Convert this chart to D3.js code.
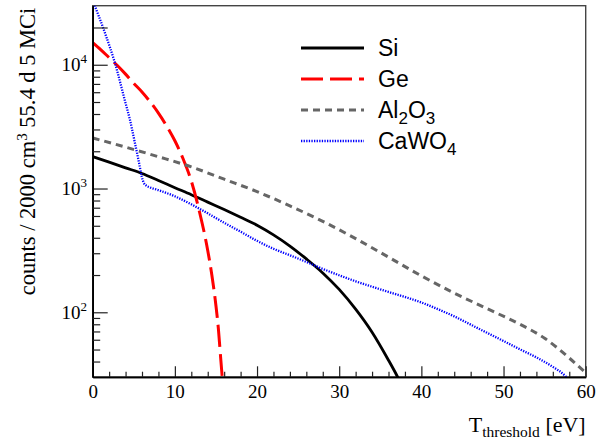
<!DOCTYPE html>
<html>
<head>
<meta charset="utf-8">
<script src="https://cdn.jsdelivr.net/npm/d3@7"></script>
<style>
body { margin: 0; background: #fff; }
svg { display: block; }
</style>
</head>
<body>
<script>
// values (counts vs threshold in eV)
const siT      = [0, 2, 4, 6, 8, 10, 12, 14, 16, 18, 20, 22, 24, 26, 28, 30, 32, 34, 36, 37, 37.4];
const siCounts = [1811, 1633, 1469, 1324, 1161, 1016, 891, 776, 676, 586, 505, 422, 343, 270, 208, 153, 106, 69, 41, 31, 27.5];

const geT      = [0, 1, 2, 3, 4, 5, 6, 7, 8, 9, 10, 11, 12, 13, 14, 14.5, 15, 15.3, 15.6, 15.8];
const geCounts = [15100, 13200, 11400, 9860, 8400, 7080, 6030, 5010, 4070, 3200, 2430, 1740, 1150, 646, 316, 200, 113, 73, 40.6, 27.9];

const alT      = [0, 4, 8, 12, 16, 20, 24, 28, 32, 36, 40, 44, 48, 52, 55, 58, 60];
const alCounts = [2560, 2160, 1807, 1496, 1189, 944, 724, 543, 394, 279, 197, 143, 107, 80, 61.7, 42.7, 32.4];

const cwT      = [0, 1.5, 2.71, 4, 4.53, 5, 5.35, 5.7, 5.96, 6.2, 6.5, 7, 8, 10, 12, 14, 16, 18, 20, 22, 24, 26, 28, 30, 32, 34, 36, 38, 40, 42, 44, 46, 48, 50, 52, 54, 56, 57.5, 58];
const cwCounts = [33000, 18000, 10300, 4890, 3600, 2580, 2000, 1540, 1256, 1118, 1058, 1019, 970, 865, 745, 630, 529, 448, 378, 326, 289, 255, 224, 199, 178, 161, 146, 133, 120, 106, 92.7, 79.5, 68.2, 58.6, 50.2, 43.2, 36.2, 30.6, 28];

const xMajor = [0, 10, 20, 30, 40, 50, 60];
const xMinor = [2, 4, 6, 8, 12, 14, 16, 18, 22, 24, 26, 28, 32, 34, 36, 38, 42, 44, 46, 48, 52, 54, 56, 58];
const yMajor = [100, 1000, 10000, 20000];
const yMinor = [40, 50, 60, 70, 80, 90, 200, 300, 400, 500, 600, 700, 800, 900,
                2000, 3000, 4000, 5000, 6000, 7000, 8000, 9000];
const yLabels = [100, 1000, 10000];

const series = [
  { name: "Si",    t: siT, c: siCounts, color: "#000000", width: 2.8, dash: null },
  { name: "Ge",    t: geT, c: geCounts, color: "#ff0000", width: 3,   dash: "22,7" },
  { name: "Al2O3", t: alT, c: alCounts, color: "#666666", width: 3,   dash: "7,5" },
  { name: "CaWO4", t: cwT, c: cwCounts, color: "#0000ff", width: 2.3, dash: "1.3,1.3" }
];

const W = 606, H = 439;
const L = 92.7, R = 585.7, T = 5.7, B = 377;

const x = d3.scaleLinear().domain([0, 60]).range([L, R]);
const y = d3.scaleLog().domain([30, 30000]).range([B, T]);

const svg = d3.select("body").append("svg").attr("width", W).attr("height", H);

svg.append("clipPath").attr("id", "clip")
  .append("rect").attr("x", L).attr("y", T).attr("width", R - L).attr("height", B - T);

// frame
svg.append("rect")
  .attr("x", L).attr("y", T).attr("width", R - L).attr("height", B - T)
  .attr("fill", "none").attr("stroke", "#444").attr("stroke-width", 1.4);

// curves
const line = d3.line().x(d => x(d[0])).y(d => y(d[1])).curve(d3.curveMonotoneX);
const plot = svg.append("g").attr("clip-path", "url(#clip)");
series.forEach(s => {
  plot.append("path")
    .datum(s.t.map((v, i) => [v, s.c[i]]))
    .attr("fill", "none")
    .attr("stroke", s.color)
    .attr("stroke-width", s.width)
    .attr("stroke-dasharray", s.dash)
    .attr("d", line);
});

// x axis
const gx = svg.append("g").attr("transform", `translate(0,${B})`);
gx.call(d3.axisBottom(x).tickValues(xMajor).tickSize(-10.7).tickSizeOuter(0)
  .tickPadding(8).tickFormat(d3.format("d")));
gx.append("g").call(d3.axisBottom(x).tickValues(xMinor).tickSize(-5.3).tickSizeOuter(0).tickFormat(""));
gx.selectAll("text").attr("font-family", "Liberation Serif").attr("font-size", 19).attr("fill", "#000");

// y axis
const gy = svg.append("g").attr("transform", `translate(${L},0)`);
gy.call(d3.axisLeft(y).tickValues(yMajor).tickSize(-15).tickSizeOuter(0).tickFormat(""));
gy.append("g").call(d3.axisLeft(y).tickValues(yMinor).tickSize(-7.5).tickSizeOuter(0).tickFormat(""));

svg.selectAll(".domain").attr("stroke", "#000").attr("stroke-width", 1.6);
svg.selectAll(".tick line").attr("stroke", "#222").attr("stroke-width", 1.2);

svg.selectAll(".ylab").data(yLabels).join("text")
  .attr("class", "ylab")
  .attr("x", 87).attr("y", d => y(d) + 6.5)
  .attr("text-anchor", "end")
  .attr("font-family", "Liberation Serif").attr("font-size", 19)
  .each(function(d) {
    const t = d3.select(this);
    t.append("tspan").text("10");
    t.append("tspan").attr("dy", -8).attr("font-size", 13).text(Math.round(Math.log10(d)));
  });

// axis titles
const yt = svg.append("text")
  .attr("transform", `translate(35,${T + 2}) rotate(-90)`)
  .attr("text-anchor", "end")
  .attr("font-family", "Liberation Serif").attr("font-size", 22.5);
yt.append("tspan").text("counts / 2000 cm");
yt.append("tspan").attr("dy", -8).attr("font-size", 15).text("3");
yt.append("tspan").attr("dy", 8).text(" 55.4 d 5 MCi");

const xt = svg.append("text")
  .attr("x", R).attr("y", 432)
  .attr("text-anchor", "end")
  .attr("font-family", "Liberation Serif").attr("font-size", 22);
xt.append("tspan").text("T");
xt.append("tspan").attr("dy", 5).attr("font-size", 15.5).text("threshold");
xt.append("tspan").attr("dy", -5).text(" [eV]");

// legend
const legY = [48, 79, 110, 141];
const leg = svg.append("g");
series.forEach((s, i) => {
  leg.append("line")
    .attr("x1", 301).attr("x2", 364).attr("y1", legY[i]).attr("y2", legY[i])
    .attr("stroke", s.color).attr("stroke-width", s.width)
    .attr("stroke-dasharray", s.dash);
  const txt = leg.append("text")
    .attr("x", 378).attr("y", legY[i] + 8)
    .attr("font-family", "Liberation Sans").attr("font-size", 23);
  // chemical formulas: digits go to subscript
  s.name.split(/(\d)/).filter(p => p).forEach(p => {
    if (/\d/.test(p)) {
      txt.append("tspan").attr("dy", 6).attr("font-size", 17).text(p);
    } else {
      const sp = txt.append("tspan").text(p);
      if (txt.selectAll("tspan").size() > 1) sp.attr("dy", -6);
    }
  });
});
</script>
</body>
</html>
